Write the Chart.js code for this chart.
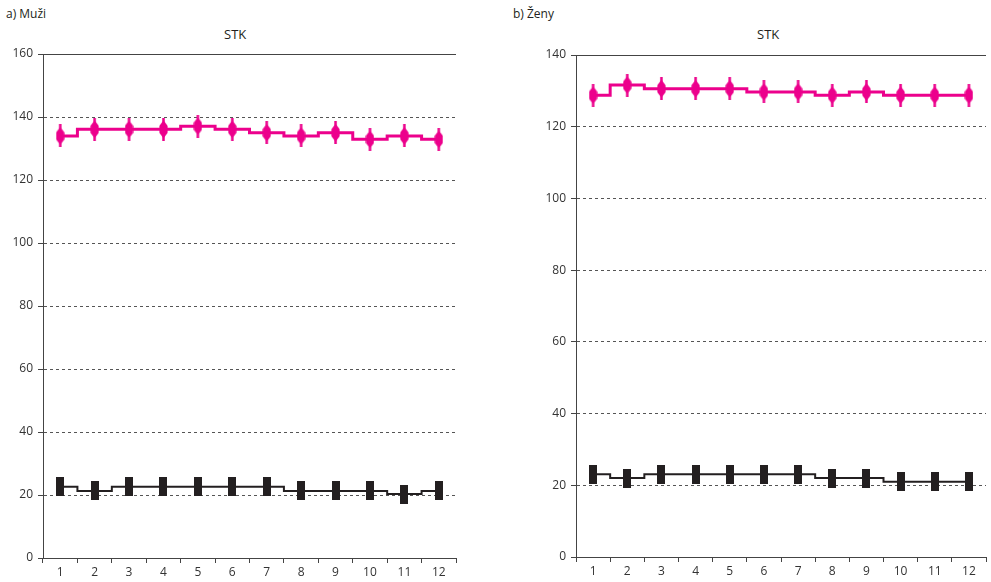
<!DOCTYPE html>
<html>
<head>
<meta charset="utf-8">
<script src="https://cdn.jsdelivr.net/npm/chart.js@4/dist/chart.umd.min.js"></script>
<style>
  html, body { margin: 0; padding: 0; background: #fff; }
  body { width: 991px; height: 582px; position: relative; overflow: hidden;
         font-family: "Open Sans", "Noto Sans", sans-serif; color: #231f20; }
  .panel { position: absolute; top: 0; }
  .lbl { position: absolute; font-size: 12px; white-space: nowrap; line-height: 16px; }
  .ttl { font-size: 13px; }
</style>
</head>
<body>
<div class="lbl" style="left:6px;top:6px">a) Muži</div>
<div class="lbl" style="left:513px;top:6px">b) Ženy</div>
<div class="lbl ttl" style="left:224px;top:26px">STK</div>
<div class="lbl ttl" style="left:757px;top:26px">STK</div>
<canvas id="men" class="panel" style="left:0;width:495px;height:582px" width="495" height="582"></canvas>
<canvas id="women" class="panel" style="left:495px;width:496px;height:582px" width="496" height="582"></canvas>
<script>
// Months of the study
const months = ['1', '2', '3', '4', '5', '6', '7', '8', '9', '10', '11', '12'];

// Men (panel a)
const menSystolic = [134, 136.1, 136.1, 136.1, 137.1, 136.1, 135, 134, 135, 132.9, 134, 132.9];
const menLower    = [22.6, 21.3, 22.6, 22.6, 22.6, 22.6, 22.6, 21.3, 21.3, 21.3, 20.3, 21.3];
const menAxisMax  = 160;

// Women (panel b)
const womenSystolic = [128.8, 131.6, 130.6, 130.6, 130.6, 129.7, 129.7, 128.8, 129.7, 128.8, 128.8, 128.8];
const womenLower    = [23.1, 22, 23.1, 23.1, 23.1, 23.1, 23.1, 22, 22, 21, 21, 21];
const womenAxisMax  = 140;

const tickStep = 20;

const PINK = '#ec008c';
const DARK = '#231f20';
const AXIS = '#444444';

// Marker glyphs
function spindle(color) {
  const c = document.createElement('canvas');
  c.width = 9; c.height = 23;
  const g = c.getContext('2d');
  g.fillStyle = color;
  g.fillRect(3.25, 0, 2.5, 23);
  g.beginPath();
  g.moveTo(4.5, 2.5);
  g.lineTo(8.6, 8);
  g.lineTo(8.6, 15);
  g.lineTo(4.5, 20.5);
  g.lineTo(0.4, 15);
  g.lineTo(0.4, 8);
  g.closePath();
  g.fill();
  return c;
}
function block(color) {
  const c = document.createElement('canvas');
  c.width = 8; c.height = 19;
  const g = c.getContext('2d');
  g.fillStyle = color;
  g.fillRect(0, 0, 8, 19);
  return c;
}
const pinkMark = spindle(PINK);
const darkMark = block(DARK);

// Solid frame line along the top of the plot area
const topLine = {
  id: 'topLine',
  beforeDatasetsDraw(chart) {
    const { ctx, chartArea: a } = chart;
    ctx.save();
    ctx.strokeStyle = AXIS;
    ctx.lineWidth = 1;
    ctx.beginPath();
    ctx.moveTo(a.left, a.top + 0.5);
    ctx.lineTo(a.right, a.top + 0.5);
    ctx.stroke();
    ctx.restore();
  }
};

function makeChart(id, systolic, lower, axisMax, pad, xHeight) {
  return new Chart(document.getElementById(id), {
    type: 'line',
    data: {
      labels: months,
      datasets: [
        { data: systolic, stepped: 'middle', borderColor: PINK, borderWidth: 3,
          pointRadius: 0, fill: false, order: 4 },
        { data: systolic, showLine: false, pointStyle: pinkMark, pointRadius: 4,
          order: 3 },
        { data: lower, stepped: 'middle', borderColor: DARK, borderWidth: 2,
          pointRadius: 0, fill: false, order: 2 },
        { data: lower, showLine: false, pointStyle: darkMark, pointRadius: 4,
          order: 1 }
      ]
    },
    options: {
      responsive: false,
      animation: false,
      events: [],
      layout: { padding: pad },
      plugins: { legend: { display: false }, title: { display: false }, tooltip: { enabled: false } },
      scales: {
        x: {
          type: 'category',
          offset: true,
          grid: { offset: true, drawOnChartArea: false, drawTicks: true, tickLength: 5,
                  tickColor: AXIS, tickWidth: 1 },
          border: { display: true, color: AXIS, width: 1 },
          ticks: { color: '#333', font: { family: '"Open Sans", sans-serif', size: 12 },
                   padding: 2, maxRotation: 0, autoSkip: false },
          afterFit: s => { s.height = xHeight; }
        },
        y: {
          min: 0, max: axisMax,
          grid: { color: '#555', lineWidth: 1, tickLength: 5, tickColor: AXIS, tickWidth: 1 },
          border: { display: true, color: AXIS, width: 1, dash: [3, 3] },
          ticks: { stepSize: tickStep, color: '#333', padding: 5,
                   font: { family: '"Open Sans", sans-serif', size: 12 } },
          afterFit: s => { s.width = 43; }
        }
      }
    },
    plugins: [topLine]
  });
}

makeChart('men', menSystolic, menLower, menAxisMax, { left: 0, right: 39, top: 54, bottom: 0 }, 24);
makeChart('women', womenSystolic, womenLower, womenAxisMax, { left: 38, right: 4, top: 55, bottom: 0 }, 25);
</script>
</body>
</html>
